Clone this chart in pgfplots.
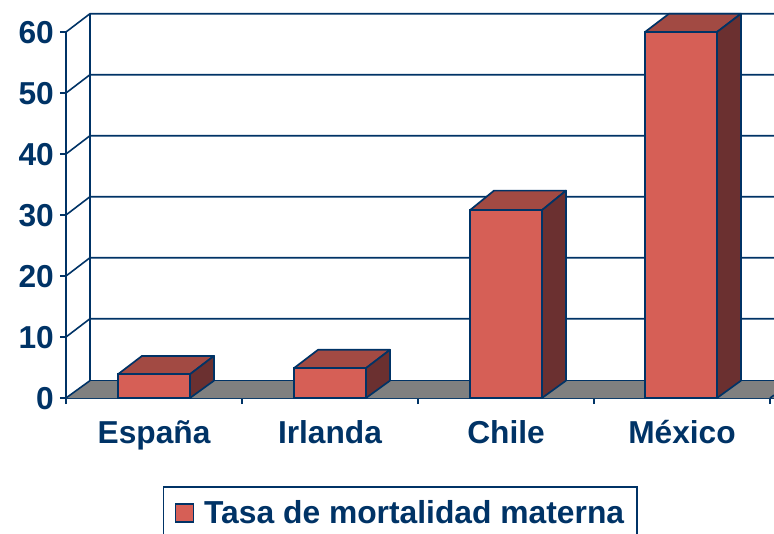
\documentclass[border=0pt]{standalone}
\usepackage{pgfplots}
\pgfplotsset{compat=1.18}
\usepackage{fontspec}
\setmainfont{Liberation Sans}
\definecolor{navy}{HTML}{003366}
\definecolor{barfront}{HTML}{D65F56}
\definecolor{bartop}{HTML}{A24A43}
\definecolor{barside}{HTML}{6B3030}
\definecolor{floorc}{HTML}{808080}
\begin{document}
\begin{tikzpicture}[x=1pt,y=1pt]
\path[use as bounding box] (-66,-135) rectangle (708,398);
\begin{axis}[
  at={(0pt,0pt)},anchor=origin,
  scale only axis,width=708pt,height=384.3pt,
  xmin=0,xmax=4.0227,ymin=0,ymax=63,
  clip=false,
  axis x line=bottom,axis y line=left,
  axis line style={-,draw=navy,line width=1.7pt},
  y axis line style={draw=none},
  tick align=outside,
  xtick={0.5,1.5,2.5,3.5},
  xticklabels={España,Irlanda,Chile,México},
  minor xtick={0,1,2,3,4},
  major x tick style={draw=none},
  minor x tick style={draw=navy,line width=1.4pt},
  minor tick length=6pt,
  ytick={0,10,20,30,40,50,60},
  y tick style={draw=navy,line width=1.4pt},
  major tick length=6pt,
  every tick label/.append style={font=\fontsize{31.7}{32}\bfseries,text=navy},
  /pgf/number format/assume math mode=true,
  xticklabel style={anchor=base,yshift=-39pt,inner sep=0pt},
  yticklabel style={anchor=east,inner sep=0pt,xshift=-6pt,yshift=-1pt},
  legend style={at={(axis cs:1.9,-14.4)},anchor=north,draw=navy,line width=1.7pt,
    font=\fontsize{31.8}{32}\bfseries,text=navy,inner xsep=11pt,inner ysep=12pt,
    /tikz/column 1/.style={column sep=8pt},
    legend cell align=left},
  legend image code/.code={\draw[draw=navy,line width=1.5pt,fill=barfront] (0pt,-9pt) rectangle (18pt,9pt);},
]
% left axis line, up to 60
\addplot[forget plot,navy,line width=1.7pt] coordinates {(0,0)(0,60)};
% floor
\addplot[forget plot,fill=floorc,draw=none] coordinates {(0,0)(0.1364,2.85)(4.0227,2.85)(4.0227,0)} -- cycle;
\addplot[forget plot,navy,line width=1.7pt] coordinates {(0.1364,2.85)(4.0227,2.85)};
% back wall
\addplot[forget plot,navy,line width=1.6pt] coordinates {(0.1364,2.85)(0.1364,63)};
\foreach \v/\w in {10/13,20/23,30/33,40/43,50/53,60/63}{
  \edef\temp{\noexpand\addplot[forget plot,navy,line width=1.6pt] coordinates {(0,\v)(0.1364,\w)(4.0227,\w)};}
  \temp
}
\addplot[forget plot,navy,line width=1.6pt] coordinates {(0,0)(0.1364,2.85)};
\addplot[forget plot,navy,line width=1.6pt] coordinates {(4,0)(4.0227,0.46)};
% tops
\addplot[forget plot,fill=bartop,draw=navy,line width=1.7pt,line join=round] coordinates {(0.2955,3.9)(0.7045,3.9)(0.8409,6.9)(0.4319,6.9)} -- cycle;
\addplot[forget plot,fill=bartop,draw=navy,line width=1.7pt,line join=round] coordinates {(1.2955,4.9)(1.7045,4.9)(1.8409,7.9)(1.4319,7.9)} -- cycle;
\addplot[forget plot,fill=bartop,draw=navy,line width=1.7pt,line join=round] coordinates {(2.2955,30.8)(2.7045,30.8)(2.8409,34)(2.4319,34)} -- cycle;
\addplot[forget plot,fill=bartop,draw=navy,line width=1.7pt,line join=round] coordinates {(3.2898,60)(3.6988,60)(3.8352,63)(3.4262,63)} -- cycle;
% sides
\addplot[forget plot,fill=barside,draw=navy,line width=1.7pt,line join=round] coordinates {(0.7045,0)(0.8409,2.85)(0.8409,6.9)(0.7045,3.9)} -- cycle;
\addplot[forget plot,fill=barside,draw=navy,line width=1.7pt,line join=round] coordinates {(1.7045,0)(1.8409,2.85)(1.8409,7.9)(1.7045,4.9)} -- cycle;
\addplot[forget plot,fill=barside,draw=navy,line width=1.7pt,line join=round] coordinates {(2.7045,0)(2.8409,2.85)(2.8409,34)(2.7045,30.8)} -- cycle;
\addplot[forget plot,fill=barside,draw=navy,line width=1.7pt,line join=round] coordinates {(3.6988,0)(3.8352,2.85)(3.8352,63)(3.6988,60)} -- cycle;
% fronts
\addplot[ybar,bar width=72pt,fill=barfront,draw=navy,line width=1.7pt] coordinates {(0.5,3.9)(1.5,4.9)(2.5,30.8)(3.4943,60)};
\addlegendentry{Tasa de mortalidad materna}
\end{axis}
\end{tikzpicture}
\end{document}
